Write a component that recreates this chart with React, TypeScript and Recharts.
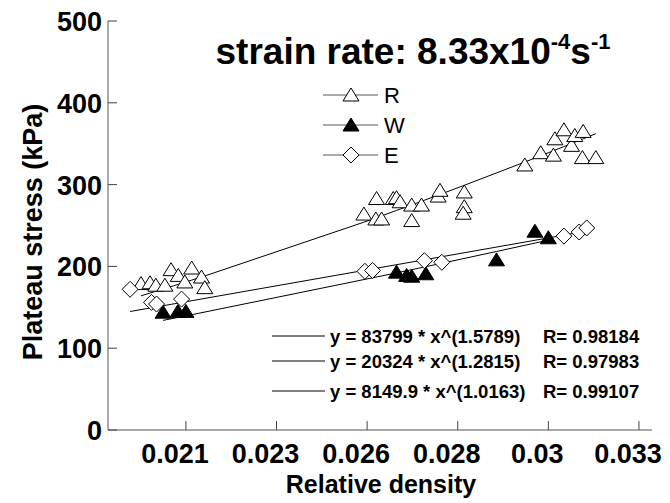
import { Legend, Scatter, ScatterChart, XAxis, YAxis } from "recharts";

// relative density / plateau stress (kPa) for the three sample groups
const rDensity = [
  0.01926, 0.01951, 0.01967, 0.01992, 0.02009, 0.02029, 0.02047, 0.02066, 0.02093, 0.02102,
  0.02541, 0.02576, 0.02574, 0.0259, 0.02622, 0.02631, 0.02641, 0.02673, 0.02673, 0.027,
  0.02746, 0.02751, 0.02818, 0.02818, 0.02815, 0.02985, 0.03029, 0.03064, 0.03068, 0.03093,
  0.03114, 0.03123, 0.03146, 0.03144, 0.03181,
];
const rStress = [
  179, 180, 177, 177, 196, 189, 181, 198, 187, 174,
  264, 283, 258, 258, 283, 284, 279, 275, 256, 275,
  286, 293, 291, 273, 265, 324, 339, 336, 356, 367,
  348, 360, 365, 333, 333,
];

const wDensity = [0.01987, 0.02028, 0.0205, 0.02631, 0.02659, 0.02673, 0.02712, 0.02907, 0.03013, 0.0305];
const wStress = [144, 145, 145, 193, 189, 188, 191, 208, 243, 235];

const eDensity = [0.01896, 0.01955, 0.01969, 0.02038, 0.02544, 0.02565, 0.02708, 0.02756, 0.03093, 0.03135, 0.03156];
const eStress = [172, 156, 154, 160, 194, 195, 207, 205, 237, 242, 247];

// power-law fits: y = a * x^b, correlation R
const fitR = { a: 83799, b: 1.5789, r: 0.98184 };
const fitW = { a: 20324, b: 1.2815, r: 0.97983 };
const fitE = { a: 8149.9, b: 1.0163, r: 0.99107 };

const xTicks = [0.0205, 0.023, 0.0255, 0.028, 0.0305, 0.033];
const xTickLabels = ["0.021", "0.023", "0.026", "0.028", "0.03", "0.033"];
const yTicks = [0, 100, 200, 300, 400, 500];

const FONT = "'Liberation Sans', Arial, sans-serif";

const toPoints = (xs: number[], ys: number[]) => xs.map((x, i) => ({ x, y: ys[i] }));
const fitCurve = (xs: number[], fit: { a: number; b: number }) =>
  [...xs].sort((m, n) => m - n).map((x) => ({ x, y: fit.a * Math.pow(x, fit.b) }));

const OpenTriangle = ({ cx, cy }: any) => (
  <polygon
    points={`${cx},${cy - 7} ${cx + 8},${cy + 6} ${cx - 8},${cy + 6}`}
    fill="#fff"
    stroke="#000"
    strokeWidth={1}
  />
);
const FilledTriangle = ({ cx, cy }: any) => (
  <polygon
    points={`${cx},${cy - 7} ${cx + 8},${cy + 6} ${cx - 8},${cy + 6}`}
    fill="#000"
    stroke="#000"
    strokeWidth={1}
  />
);
const Diamond = ({ cx, cy }: any) => (
  <polygon
    points={`${cx},${cy - 8} ${cx + 8},${cy} ${cx},${cy + 8} ${cx - 8},${cy}`}
    fill="#fff"
    stroke="#000"
    strokeWidth={1}
  />
);
const NoDot = () => <g />;

const BottomTick = ({ x, y, payload }: any) => (
  <g>
    <line x1={x} x2={x} y1={y} y2={y - 9} stroke="#444" />
    <text x={x - 11} y={y + 33} textAnchor="middle" fontFamily={FONT} fontWeight="bold" fontSize={27} fill="#000">
      {xTickLabels[xTicks.indexOf(payload.value)]}
    </text>
  </g>
);
const TopTick = ({ x, y }: any) => <line x1={x} x2={x} y1={y} y2={y + 9} stroke="#000" />;
const LeftTick = ({ x, y, payload }: any) => (
  <g>
    <line x1={x} x2={x + 9} y1={y} y2={y} stroke="#444" />
    <text x={x - 6} y={y + 10} textAnchor="end" fontFamily={FONT} fontWeight="bold" fontSize={27} fill="#000">
      {payload.value}
    </text>
  </g>
);
const RightTick = ({ x, y }: any) => <line x1={x} x2={x - 9} y1={y} y2={y} stroke="#000" />;

const legendRows = [
  { name: "R", Marker: OpenTriangle },
  { name: "W", Marker: FilledTriangle },
  { name: "E", Marker: Diamond },
];

const SeriesLegend = () => (
  <svg width={100} height={100}>
    {legendRows.map(({ name, Marker }, i) => {
      const cy = 15 + i * 30;
      return (
        <g key={name}>
          <line x1={5} x2={60} y1={cy} y2={cy} stroke="#555" />
          <Marker cx={33} cy={cy} />
          <text x={66} y={cy + 8} fontFamily={FONT} fontSize={22} fill="#000">
            {name}
          </text>
        </g>
      );
    })}
  </svg>
);

const eqRows = [fitR, fitW, fitE];
const eqY = [336, 361, 391];

export default function App() {
  return (
    <div style={{ position: "absolute", left: 0, top: 0 }}>
      <ScatterChart width={670} height={503} margin={{ top: 21, right: 18, bottom: 0, left: 0 }}>
        <XAxis
          type="number"
          dataKey="x"
          domain={[0.01835, 0.03336]}
          ticks={xTicks}
          interval={0}
          allowDataOverflow
          height={73}
          tickSize={0}
          tickMargin={0}
          tickLine={false}
          tick={<BottomTick />}
          axisLine={{ stroke: "#555" }}
        />
        <XAxis
          xAxisId="top"
          orientation="top"
          type="number"
          domain={[0.01835, 0.03336]}
          ticks={xTicks}
          interval={0}
          allowDataOverflow
          height={0}
          tickSize={0}
          tickMargin={0}
          tickLine={false}
          tick={<TopTick />}
          axisLine={{ stroke: "#000" }}
        />
        <YAxis
          type="number"
          dataKey="y"
          domain={[0, 500]}
          ticks={yTicks}
          interval={0}
          width={108}
          tickSize={0}
          tickMargin={0}
          tickLine={false}
          tick={<LeftTick />}
          axisLine={{ stroke: "#555" }}
        />
        <YAxis
          yAxisId="right"
          orientation="right"
          type="number"
          domain={[0, 500]}
          ticks={yTicks}
          interval={0}
          width={0}
          tickSize={0}
          tickMargin={0}
          tickLine={false}
          tick={<RightTick />}
          axisLine={{ stroke: "#000" }}
        />

        <Scatter data={fitCurve(rDensity, fitR)} line={{ stroke: "#000", strokeWidth: 1 }} shape={<NoDot />} isAnimationActive={false} legendType="none" />
        <Scatter data={fitCurve(wDensity, fitW)} line={{ stroke: "#000", strokeWidth: 1 }} shape={<NoDot />} isAnimationActive={false} legendType="none" />
        <Scatter data={fitCurve(eDensity, fitE)} line={{ stroke: "#000", strokeWidth: 1 }} shape={<NoDot />} isAnimationActive={false} legendType="none" />

        <Scatter name="R" data={toPoints(rDensity, rStress)} shape={<OpenTriangle />} isAnimationActive={false} />
        <Scatter name="W" data={toPoints(wDensity, wStress)} shape={<FilledTriangle />} isAnimationActive={false} />
        <Scatter name="E" data={toPoints(eDensity, eStress)} shape={<Diamond />} isAnimationActive={false} />

        <Legend
          layout="horizontal"
          verticalAlign="middle"
          align="center"
          wrapperStyle={{ left: 318, top: 80, width: 100, height: 100 }}
          content={() => <SeriesLegend />}
        />

        <text x={413} y={64} textAnchor="middle" fontFamily={FONT} fontWeight="bold" fontSize={37} fill="#000">
          strain rate: 8.33x10
          <tspan dy={-15} fontSize={22}>-4</tspan>
          <tspan dy={15} fontSize={37}>s</tspan>
          <tspan dy={-15} fontSize={22}>-1</tspan>
        </text>

        {eqRows.map((f, i) => (
          <g key={i}>
            <line x1={272} x2={325} y1={eqY[i]} y2={eqY[i]} stroke="#000" />
            <text x={330} y={eqY[i] + 7} fontFamily={FONT} fontWeight="bold" fontSize={18.5} fill="#000">
              {`y = ${f.a} * x^(${f.b})`}
            </text>
            <text x={543} y={eqY[i] + 7} fontFamily={FONT} fontWeight="bold" fontSize={18.5} fill="#000">
              {`R= ${f.r}`}
            </text>
          </g>
        ))}

        <text x={381} y={493} textAnchor="middle" fontFamily={FONT} fontWeight="bold" fontSize={25} fill="#000">
          Relative density
        </text>
        <text
          transform="translate(42,232) rotate(-90)"
          textAnchor="middle"
          fontFamily={FONT}
          fontWeight="bold"
          fontSize={27}
          fill="#000"
        >
          Plateau stress (kPa)
        </text>
      </ScatterChart>
    </div>
  );
}
